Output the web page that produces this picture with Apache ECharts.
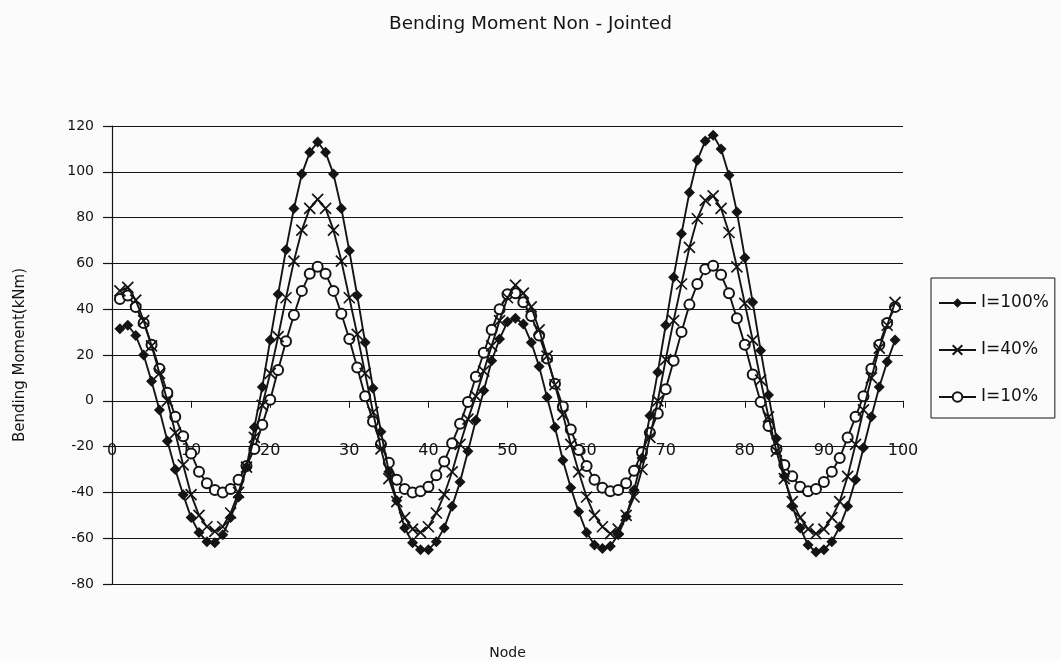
<!DOCTYPE html>
<html>
<head>
<meta charset="utf-8">
<script src="https://cdn.jsdelivr.net/npm/echarts@6/dist/echarts.min.js"></script>
<style>html,body{margin:0;padding:0;background:#fbfbfb;}#c{width:1061px;height:661px;}</style>
</head>
<body>
<div id="c"></div>
<script>
const nodes = [1,2,3,4,5,6,7,8,9,10,11,12,13,14,15,16,17,18,19,20,21,22,23,24,25,26,27,28,29,30,31,32,33,34,35,36,37,38,39,40,41,42,43,44,45,46,47,48,49,50,51,52,53,54,55,56,57,58,59,60,61,62,63,64,65,66,67,68,69,70,71,72,73,74,75,76,77,78,79,80,81,82,83,84,85,86,87,88,89,90,91,92,93,94,95,96,97,98,99];

const i100 = [31.5,33,28.5,20,8.5,-4,-17.5,-30,-41,-51,-57.5,-61.5,-62,-58.5,-51,-42,-29,-11.5,6,26.5,
  46.5,66,84,99,108.5,113,108.5,99,84,65.5,46,25.5,5.5,-13.5,-31,-43.5,-55.5,-62,-65,-65,
  -61.5,-55.5,-46,-35.5,-22,-8.5,4.5,17.5,27,34.5,36,33.5,25.5,15,1.5,-11.5,-26,-38,-48.5,-57.5,
  -63,-64.5,-63.5,-58.5,-50.5,-39,-25,-6.5,12.5,33,54,73,91,105,113.5,116,110,98.5,82.5,62.5,
  43,22,2.5,-16.5,-33,-46,-55.5,-63,-66,-65,-61.5,-55,-46,-34.5,-20.5,-7,6,17,26.5];

const i40 = [48,49.5,44,35,24,12,0,-14,-28,-41,-50,-55,-57,-55,-49,-40,-29,-16,-2,12,
  28,45,61,74.5,84,88,84,74.5,61,45,29,12,-5,-21,-34,-44,-51,-56,-57.5,-55,
  -49,-41,-31,-19,-8,2,13,24,35,45,50.5,47,41,31,19.5,7,-6,-19,-31,-42,
  -50,-55,-58,-56,-50,-42,-30,-16,0,18,35,51,67,79.5,87.5,89.5,84,73.5,58.5,42.5,
  26.5,9,-7,-22,-34,-44,-51,-56,-58,-56,-51,-44,-33,-19,-4,10,23,33,43];

const i10 = [44.5,46,41,34,24.5,14,3.5,-7,-15.5,-23,-31,-36,-39,-40,-38.5,-34.5,-28.5,-21,-10.5,0.5,
  13.5,26,37.5,48,55.5,58.5,55.5,48,38,27,14.5,2,-9,-19,-27,-34.5,-38.5,-40,-39.5,-37.5,
  -32.5,-26.5,-18.5,-10,-0.5,10.5,21,31,40,46.5,47,43,37,28.5,18.5,7.5,-2.5,-12.5,-21.5,-28.5,
  -34.5,-38,-39.5,-39,-36,-30.5,-22.5,-14,-5.5,5,17.5,30,42,51,57.5,59,55,47,36,24.5,
  11.5,-0.5,-11,-21,-28,-33,-37.5,-39.5,-38.5,-35.5,-31,-25,-16,-7,2,14,24.5,34,41];

const seriesNames = ['I=100%','I=40%','I=10%'];
const titleText = 'Bending Moment Non - Jointed';
const yTitle = 'Bending Moment(kNm)';
const xTitle = 'Node';

function pairs(vals){ return nodes.map((n,i)=>[n, vals[i]]); }

const ink = '#141414';
const font = 'DejaVu Sans';
const chart = echarts.init(document.getElementById('c'), null, {renderer:'canvas'});
chart.setOption({
  backgroundColor: '#fbfbfb',
  animation: false,
  title: {
    text: titleText, left: 'center', top: 10,
    textStyle: {fontFamily: font, fontSize: 18.5, fontWeight: 'normal', color: ink}
  },
  grid: {left: 112, right: 158, top: 126, bottom: 77, containLabel: false, outerBoundsMode: 'none'},
  legend: {
    orient: 'vertical', left: 931, top: 278,
    padding: [15, 6, 11, 7], itemGap: 27,
    itemWidth: 37, itemHeight: 12,
    borderColor: ink, borderWidth: 1,
    textStyle: {fontFamily: font, fontSize: 17, color: ink, lineHeight: 20},
    data: seriesNames
  },
  xAxis: {
    type: 'value', min: 0, max: 100, interval: 10,
    name: xTitle, nameLocation: 'middle', nameGap: 62,
    nameTextStyle: {fontFamily: font, fontSize: 14, color: ink},
    axisLine: {onZero: true, lineStyle: {color: ink, width: 1.2}},
    axisTick: {show: true, inside: false, length: 7, lineStyle: {color: ink}},
    axisLabel: {margin: -141, fontFamily: font, fontSize: 16, color: ink},
    splitLine: {show: false}
  },
  yAxis: {
    type: 'value', min: -80, max: 120, interval: 20,
    name: yTitle, nameLocation: 'middle', nameGap: 84, nameRotate: 90,
    nameTextStyle: {fontFamily: font, fontSize: 15, color: ink},
    axisLine: {show: true, onZero: false, lineStyle: {color: ink, width: 1.2}},
    axisTick: {show: true, inside: false, length: 9, lineStyle: {color: ink, width: 1.2}},
    axisLabel: {margin: 18, fontFamily: font, fontSize: 14, color: ink},
    splitLine: {show: true, lineStyle: {color: ink, width: 1.2}}
  },
  series: [
    {
      name: seriesNames[0], type: 'line', data: pairs(i100),
      symbol: 'diamond', symbolSize: 11,
      lineStyle: {color: ink, width: 1.9},
      itemStyle: {color: ink, borderColor: ink, borderWidth: 0},
      z: 4
    },
    {
      name: seriesNames[1], type: 'line', data: pairs(i40),
      symbol: 'path://M0,0L10,10M10,0L0,10', symbolSize: 11,
      lineStyle: {color: ink, width: 1.9},
      itemStyle: {color: 'rgba(0,0,0,0)', borderColor: ink, borderWidth: 1.7},
      z: 3
    },
    {
      name: seriesNames[2], type: 'line', data: pairs(i10),
      symbol: 'emptyCircle', symbolSize: 10,
      lineStyle: {color: ink, width: 1.9},
      itemStyle: {color: ink, borderColor: ink, borderWidth: 1.5},
      z: 2
    }
  ]
});
</script>
</body>
</html>
